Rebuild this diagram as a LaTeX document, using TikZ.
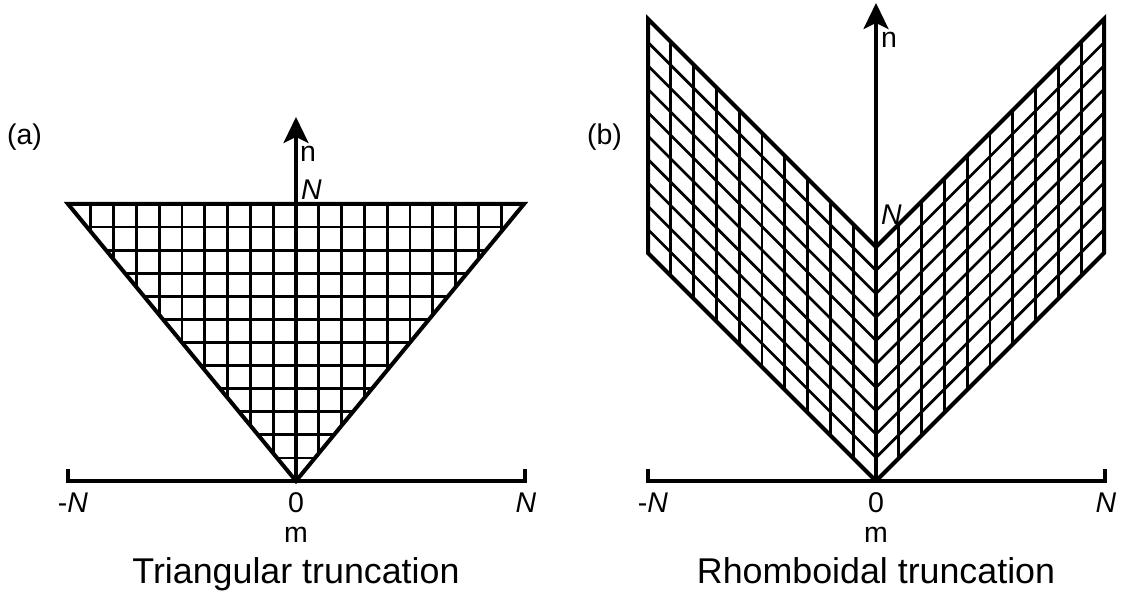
\documentclass[tikz,border=0pt]{standalone}
\usepackage{fontspec}
\setmainfont{Liberation Sans}
\usetikzlibrary{arrows.meta}
\begin{document}
\begin{tikzpicture}[x=1pt,y=-1pt,
  gridline/.style={line width=2.7pt},
  edge/.style={line width=4pt, line join=miter},
  axis/.style={line width=3.2pt},
  arr/.style={axis, -{Stealth[length=26pt, width=25pt, inset=6pt]}},
  lab/.style={font=\fontsize{28.5}{30}\selectfont, inner sep=0pt},
  ttl/.style={font=\fontsize{35.8}{40}\selectfont, inner sep=0pt}]
\useasboundingbox (0,0) rectangle (1127,593);

% ---------- (a) triangular ----------
\coordinate (A0) at (296,481);
\coordinate (ATL) at (68,204);
\coordinate (ATR) at (524,204);
\coordinate (Atip) at (296,117);
\begin{scope}
  \clip (A0) -- (ATL) -- (ATR) -- cycle;
  \foreach \k in {-9,...,9} {\draw[gridline] (296+\k*22.8,150) -- (296+\k*22.8,500);}
  \foreach \j in {1,...,11} {\draw[gridline] (40,481-\j*23.08) -- (560,481-\j*23.08);}
\end{scope}
\draw[edge] (A0) -- (ATL) -- (ATR) -- cycle;
\draw[arr] (A0) -- (Atip);
\draw[axis] (68,469) -- (68,481) -- (525,481) -- (525,469);
\node[lab, anchor=base west] (an) at (300,162) {n};
\node[lab, anchor=base west] (aN) at (301,200) {\itshape N};
\node[lab, anchor=base] (amN) at (73,512) {-\textit{N}};
\node[lab, anchor=base] (a0) at (296,512) {0};
\node[lab, anchor=base] (apN) at (526,512) {\itshape N};
\node[lab, anchor=base] (am) at (296,542) {m};
\node[ttl, anchor=base] (at) at (296,583) {Triangular truncation};
\node[lab] (alab) at (24.5,137) {(a)};

% ---------- (b) rhomboidal ----------
\coordinate (B0) at (876,481);
\coordinate (BLB) at (648,253);
\coordinate (BLT) at (648,19);
\coordinate (BIT) at (876,247);
\coordinate (BRB) at (1104,253);
\coordinate (BRT) at (1104,19);
\coordinate (Btip) at (876,3);
\begin{scope}
  \clip (B0) -- (BLB) -- (BLT) -- (BIT) -- cycle;
  \foreach \k in {1,...,9} {\draw[gridline] (876-\k*22.8,0) -- (876-\k*22.8,500);}
  \foreach \j in {1,...,9} {\draw[gridline] (900,481-\j*23.4+24) -- (620,481-\j*23.4-256);}
\end{scope}
\begin{scope}
  \clip (B0) -- (BRB) -- (BRT) -- (BIT) -- cycle;
  \foreach \k in {1,...,9} {\draw[gridline] (876+\k*22.8,0) -- (876+\k*22.8,500);}
  \foreach \j in {1,...,9} {\draw[gridline] (852,481-\j*23.4+24) -- (1132,481-\j*23.4-256);}
\end{scope}
\draw[edge] (B0) -- (BLB) -- (BLT) -- (BIT);
\draw[edge] (B0) -- (BRB) -- (BRT) -- (BIT);
\draw[arr] (B0) -- (Btip);
\draw[axis] (648,469) -- (648,481) -- (1105,481) -- (1105,469);
\node[lab, anchor=base west] (bn) at (881,48) {n};
\node[lab, anchor=base west] (bN) at (881,225) {\itshape N};
\node[lab, anchor=base] (bmN) at (653,512) {-\textit{N}};
\node[lab, anchor=base] (b0) at (876,512) {0};
\node[lab, anchor=base] (bpN) at (1106,512) {\itshape N};
\node[lab, anchor=base] (bm) at (876,542) {m};
\node[ttl, anchor=base] (bt) at (876,583) {Rhomboidal truncation};
\node[lab] (blab) at (604.5,137) {(b)};
\end{tikzpicture}
\end{document}
